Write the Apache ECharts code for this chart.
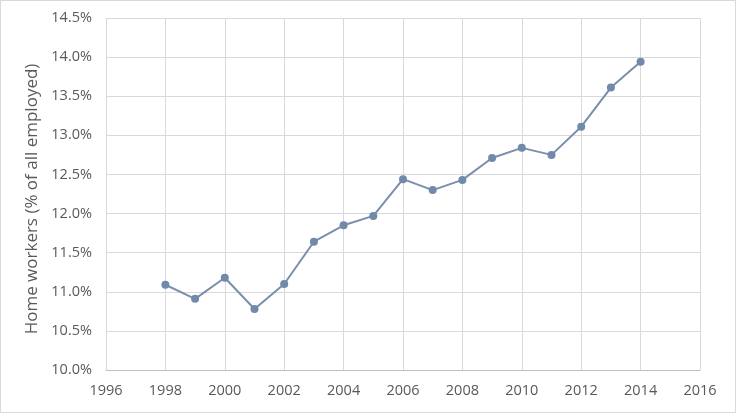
<!DOCTYPE html>
<html>
<head>
<meta charset="utf-8">
<script src="https://cdn.jsdelivr.net/npm/echarts@6/dist/echarts.min.js"></script>
<style>
html,body{margin:0;padding:0;background:#fff;}
#c{width:736px;height:413px;box-sizing:border-box;border:1px solid #d9d9d9;}
</style>
</head>
<body>
<div id="c"></div>
<script>
var years = [1998,1999,2000,2001,2002,2003,2004,2005,2006,2007,2008,2009,2010,2011,2012,2013,2014];
var shares = [11.09,10.91,11.18,10.78,11.10,11.64,11.85,11.97,12.44,12.30,12.43,12.71,12.84,12.75,13.11,13.61,13.94];
var yTitle = 'Home workers (% of all employed)';

var chart = echarts.init(document.getElementById('c'));
chart.setOption({
  animation:false,
  grid:{left:105,right:35,top:17,bottom:42,containLabel:false},
  xAxis:{
    type:'value',min:1996,max:2016,interval:2,
    axisLine:{show:true,lineStyle:{color:'#bfbfbf',width:1}},
    axisTick:{show:false},
    splitLine:{show:true,lineStyle:{color:'#d9d9d9',width:1}},
    axisLabel:{color:'#595959',fontFamily:'Open Sans',fontSize:14.5,margin:13,
      formatter:function(v){return String(v);}}
  },
  yAxis:{
    type:'value',min:10,max:14.5,interval:0.5,
    name:yTitle,nameLocation:'middle',nameGap:60,
    nameTextStyle:{color:'#595959',fontFamily:'Open Sans',fontSize:17,padding:[0,10,0,0]},
    axisLine:{show:false},
    axisTick:{show:false},
    splitLine:{show:true,lineStyle:{color:'#d9d9d9',width:1}},
    axisLabel:{color:'#595959',fontFamily:'Open Sans',fontSize:14.5,margin:14,
      formatter:function(v){return v.toFixed(1)+'%';}}
  },
  series:[{
    type:'line',
    data:years.map(function(y,i){return [y,shares[i]];}),
    symbol:'circle',symbolSize:8,
    lineStyle:{color:'#7b8eab',width:2},
    itemStyle:{color:'#7189ab'}
  }]
});
</script>
</body>
</html>
